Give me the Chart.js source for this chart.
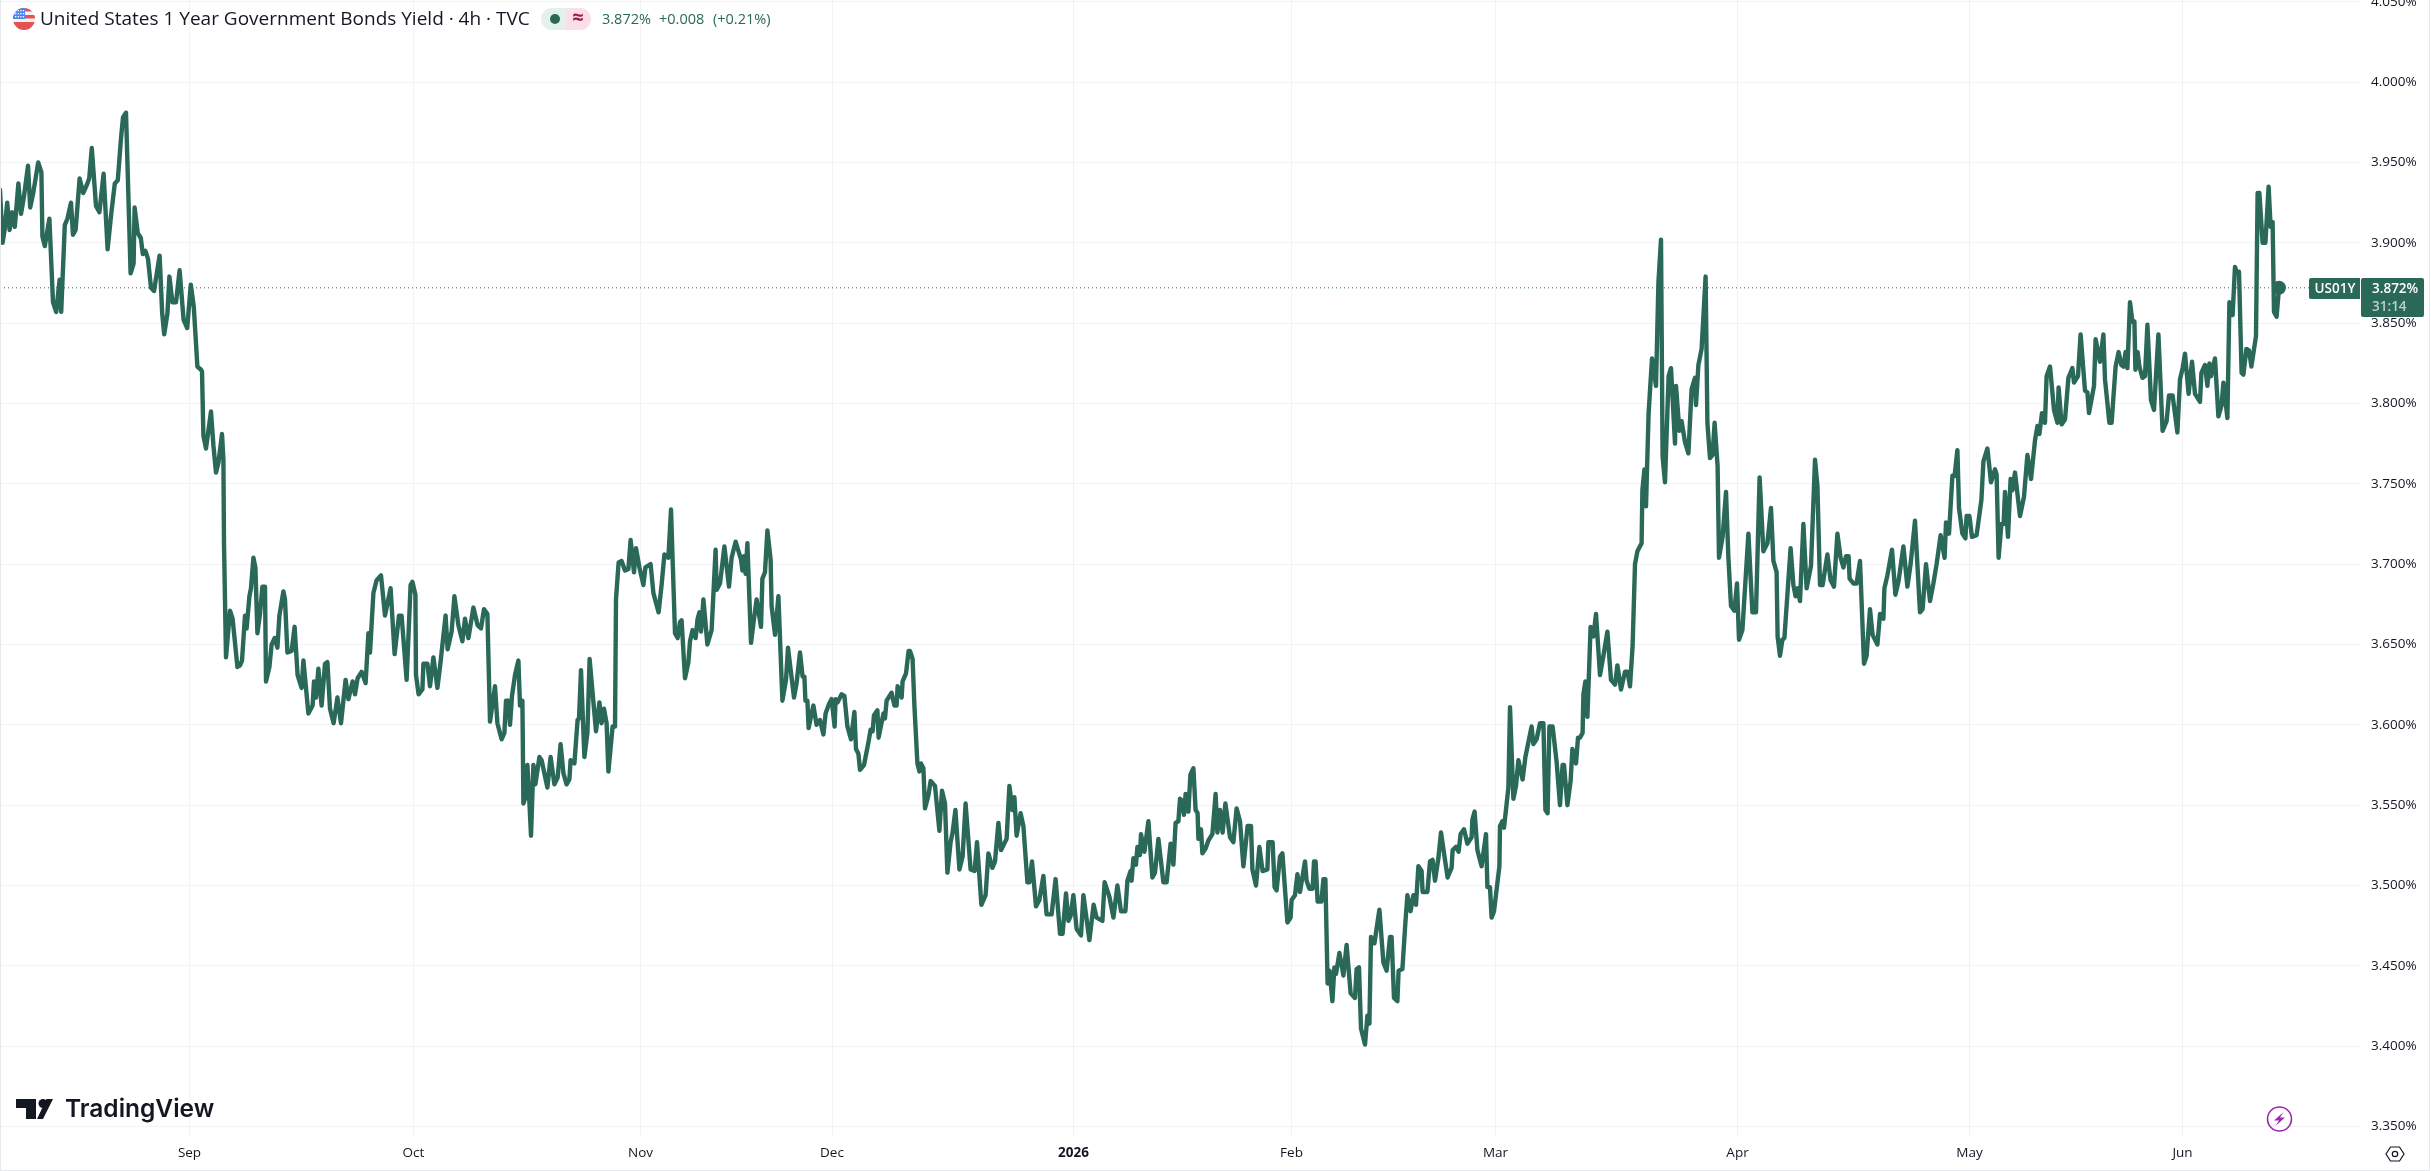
<!DOCTYPE html>
<html>
<head>
<meta charset="utf-8">
<title>United States 1 Year Government Bonds Yield</title>
<script src="https://cdn.jsdelivr.net/npm/chart.js@4/dist/chart.umd.min.js"></script>
<style>
html,body{margin:0;padding:0;background:#fff}
canvas{display:block}
</style>
</head>
<body>
<canvas id="c" width="2431" height="1171"></canvas>
<script>
// Session position of each traced bar on the compressed trading axis
const barIndex = [
0,1.3,2.3,3.6,4.8,6.1,7.4,9.2,10.5,12,14,15.1,16.6,19.1,20.7,21.2,22.4,24.7,26.5,28.1,
29.8,30.6,32.4,33.7,35.5,36.5,37.8,39.8,41.6,43.4,44.6,45.9,48,49.7,51.8,53.8,55.6,57.4,58.9,60.5,
61.5,63,65.3,66.8,67.3,68.9,70.4,71.4,72.7,74,75.5,77,79.8,81.1,82.1,83.7,84.7,86.2,88,89.8,
91.8,93.6,95.4,96.9,98.7,100.5,
101,101.7,103,105.5,106.7,108,109.2,111,111.7,112,113,115,116.3,118.7,120,121,122.5,123.3,124.7,125.5,
126.7,127.7,128.7,130,131.2,132.5,133,134.7,135.8,137.3,138.7,139.7,141.7,142.5,143.7,145.8,147.3,148.8,150.8,151.7,
154.2,156.3,157,158,159.2,160.8,162.5,163.7,165,166.8,168.7,170.5,172.8,174.2,176.3,177.5,178.8,180.8,182.8,184.2,
185,186.7,188.3,190.5,192.5,195.3,197.3,199.5,200.8,203.3,205.3,206.2,207.7,208,209.3,211.2,211.7,213.7,215,216.7,
218.7,220,222.8,223.8,225.8,227.2,229.2,231.2,232.5,234.2,236.7,238.8,240.5,242,243.7,245,247.5,248.7,250.8,252.2,
253,254.2,255,256,257.5,259.2,260,261.2,261.7,262.8,263.7,264.5,265.5,266.7,267.7,269.7,270.8,273.7,275.3,277.2,
278.8,280.3,281.7,283.3,284.7,285.3,287.2,288.8,289.5,290.5,292.2,293.7,294.8,298,299.7,300.8,302,303.3,304.2,306.3,
307.5,308,309.3,310.8,312.5,314.2,315.3,317,318,319.7,321.7,322.7,325.3,326.7,329.3,330.8,332.2,334.2,335.5,337.5,
338.8,340,
340.8,342.5,344.2,345,346.3,347.8,348.8,349.7,350.5,351.7,353.7,355.8,357.8,358.3,360,362.2,364.5,365.8,367.8,370.5,
371.2,372,372.8,373.7,375.5,377,378.3,380.5,381.2,382.5,383.7,385.3,385.8,387.5,389.2,391.2,393,394,397,398.3,
400,401.3,402.2,402.7,403.7,404.3,405.8,406.7,408.3,410,411.7,412.8,414.5,415.8,417.3,417.8,418.8,420.8,422.2,423.7,
425.5,427.2,428,429.2,430,432,434.2,435.3,436.3,437,438.7,439.3,441.7,442.5,443.3,445.8,447.2,448.3,448.8,450.8,
451.3,453,454.3,455,456.3,457.2,458.7,459.7,460.5,461.7,462.5,464.2,465.3,467.5,469.7,471,472.5,473.7,475.3,476.3,
477.7,479.7,481.3,482.8,485.3,487.3,488.5,490.7,492.8,494.2,496.2,497.5,499.2,500.5,502.5,503.3,504.7,506.2,507.2,508.3,
510.3,511.7,513.7,514.7,516,518,519.7,521.7,523.3,525.8,527.8,530,531.3,533,534.2,535.3,536.7,538.3,540.5,541.7,
544.7,546.8,548.3,551.2,552.3,554.7,556.7,558.7,560.5,562.7,563.7,565.3,565.8,566.7,568,568.7,570,570.5,572.2,574.2,
576.2,577.5,579.2,581.7,583.3,585.3,586.7,587.8,589.2,590,
590.8,592,592.8,594.2,595.2,596.7,597.8,598.8,599.2,600.5,601.2,602.8,604.2,606.2,607.8,608.7,610,611.3,612.7,615,
616.7,618.3,620,621.7,623.8,625.5,626.2,628,629.7,631.3,633.7,634.2,636.3,637.3,638.3,640,641.2,643.7,645.3,645.8,
647.5,648.7,650,652.5,653.3,654.7,656.3,657,657.8,658.8,660.7,661.7,662.7,663.8,664.8,666.2,667.2,668,669.7,671.7,
673.3,675.3,677.5,678.3,679.5,680.5,682.5,683.7,684.7,685.5,687.2,689.7,691.7,693.3,695,695.8,697,698.7,699.3,701.2,
702.7,703.7,705.3,706.7,708,709.2,710.8,711.3,713.7,715,716.3,717.5,719.2,720.5,723.8,725.8,726.3,728,729.3,730.3,
732,733.7,735.8,736.2,737.3,738.7,740.8,743,743.7,745,745.8,747,749.7,750,751.2,752,754.2,755,756.7,758,
759.2,761.3,762.7,765.8,766.7,768.3,770,771.7,772.7,773.8,774.7,776.3,778.3,780,781.3,782,783.7,785.3,786.2,788,
789,790,791.3,791.7,792.7,793.7,
795.3,796.7,798,800,801.7,803.7,805.5,807.5,808.7,810.5,812.5,813.8,815,816.3,817.5,818.7,820.8,821.2,822.2,823,
824.3,826,828,829.2,830.5,831.3,832.5,834.3,835.5,837.5,838,839.7,840.8,842.5,844.2,845.8,847.5,848,849.2,850.8,
852.8,853.7,855,856.3,857.3,858.8,859.5,861.3,863,864.2,865.5,867.2,868.5,869.5,871.2,874.2,876.2,878,879.8,881.7,
883.7,885.5,886.7,888.3,888.8,890,891.2,892.2,895.3,896.7,897.8,898.8,900,901.7,903.3,905.5,907.5,908.7,910,911.3,
913.7,915.3,917,918.7,920.3,921.7,923,924.3,924.8,926.7,928.3,930,932,933.3,935,936.3,938.7,940,941.7,942.2,
943.7,946,947.7,949.2,951.7,953.7,955.3,957.5,960,961.3,963,965,966.7,968.3,970.3,972.3,973,974.5,976.2,977.3,
978.7,979.5,981.2,982.7,983.3,984.7,986,988.3,990.7,991.7,993.7,995.5,997.5,998.3,999.3,1000.7,1001.8,1002.5,1004,1005.3,
1006.2,1007.5,1010,1012,1013.7,1015.5,1017.5,1018.7,1019.7,1021,1022.5,1023.3,1025,
1027,1028.7,1029.3,1030.8,1032.5,1034.2,1036.2,1037,1039,1040.3,1042.5,1043.7,1044.5,1047,1047.8,1050,1051.7,1052.5,1054.7,1055.8,
1057.8,1059.3,1060.7,1061.7,1062.8,1063.7,1065,1066.2,1067.2,1067.7,1068.8,1069.7,1071.2,1072.5,1073.7,1075.5,1077,1079.2,1081.3,1083.3,
1084.5,1086.3,1088.7,1090,1091.3,1092.5,1094.3,1096,1097.5,1100,1100.7,1102.5,1103.7,1104.7,1105.5,1107.5,1109.2,1110.8,1111.7,1113.7,
1114.7,1116.3,1117.5,1118.3,1119.5,1120.8,1121.7,1123.2,1124.5,1125.7,1128,1128.8,1129.7,1131.3,1132.7,1134.3,1135.3,1136.3,1137,1138.3,
1139.5
];

// Yield in percent at each of those bars
const yieldPct = [
3.933,3.900,3.908,3.925,3.908,3.919,3.910,3.937,3.918,3.929,3.948,3.922,3.931,3.950,3.944,3.904,3.898,3.915,3.863,3.857,
3.877,3.857,3.911,3.915,3.925,3.905,3.908,3.940,3.931,3.936,3.940,3.959,3.923,3.919,3.943,3.896,3.918,3.937,3.939,3.965,
3.978,3.981,3.881,3.887,3.922,3.906,3.903,3.893,3.895,3.890,3.872,3.870,3.892,3.856,3.843,3.856,3.879,3.863,3.863,3.883,
3.852,3.847,3.874,3.860,3.823,3.821,
3.820,3.780,3.772,3.795,3.774,3.757,3.763,3.781,3.765,3.713,3.642,3.671,3.666,3.636,3.637,3.640,3.668,3.660,3.680,3.685,
3.704,3.698,3.657,3.669,3.686,3.686,3.627,3.636,3.650,3.654,3.648,3.668,3.683,3.678,3.645,3.646,3.661,3.631,3.623,3.640,
3.607,3.612,3.627,3.617,3.635,3.612,3.638,3.639,3.610,3.601,3.617,3.601,3.628,3.616,3.627,3.619,3.629,3.633,3.626,3.657,
3.645,3.682,3.690,3.693,3.668,3.685,3.644,3.668,3.668,3.628,3.687,3.689,3.681,3.631,3.619,3.622,3.638,3.638,3.624,3.642,
3.623,3.636,3.668,3.647,3.658,3.680,3.662,3.652,3.666,3.654,3.673,3.662,3.660,3.672,3.669,3.602,3.624,3.601,3.591,3.595,
3.615,3.615,3.600,3.618,3.631,3.640,3.612,3.615,3.551,3.555,3.575,3.557,3.531,3.575,3.563,3.580,3.578,3.561,3.580,3.563,
3.567,3.588,3.570,3.563,3.566,3.578,3.576,3.603,3.604,3.634,3.580,3.595,3.641,3.596,3.614,3.601,3.610,3.601,3.571,3.599,
3.599,3.678,3.701,3.702,3.696,3.697,3.715,3.695,3.710,3.698,3.687,3.698,3.700,3.682,3.670,3.687,3.706,3.704,3.734,3.657,
3.654,3.664,
3.665,3.629,3.639,3.652,3.659,3.654,3.666,3.670,3.658,3.678,3.650,3.659,3.709,3.684,3.688,3.711,3.686,3.704,3.714,3.703,
3.696,3.705,3.694,3.713,3.651,3.666,3.678,3.661,3.691,3.695,3.721,3.703,3.674,3.656,3.680,3.615,3.628,3.648,3.617,3.626,
3.645,3.630,3.630,3.615,3.615,3.598,3.607,3.612,3.600,3.603,3.594,3.607,3.613,3.616,3.599,3.616,3.614,3.619,3.618,3.599,
3.591,3.608,3.585,3.582,3.572,3.575,3.589,3.597,3.596,3.606,3.609,3.592,3.607,3.604,3.615,3.620,3.612,3.612,3.624,3.617,
3.627,3.632,3.646,3.646,3.641,3.612,3.576,3.571,3.576,3.573,3.548,3.556,3.565,3.562,3.534,3.559,3.551,3.508,3.527,3.533,
3.547,3.510,3.518,3.551,3.510,3.509,3.527,3.488,3.494,3.520,3.511,3.515,3.539,3.522,3.527,3.529,3.562,3.547,3.555,3.531,
3.545,3.537,3.502,3.502,3.515,3.487,3.491,3.506,3.482,3.482,3.504,3.470,3.470,3.495,3.478,3.481,3.494,3.473,3.469,3.494,
3.466,3.488,3.480,3.478,3.502,3.493,3.480,3.500,3.484,3.484,3.503,3.509,3.503,3.517,3.513,3.524,3.519,3.532,3.521,3.540,
3.505,3.508,3.529,3.502,3.502,3.526,3.513,3.539,3.540,3.554,
3.553,3.544,3.557,3.546,3.569,3.573,3.547,3.545,3.529,3.535,3.520,3.523,3.528,3.532,3.557,3.533,3.547,3.533,3.551,3.530,
3.527,3.548,3.540,3.512,3.537,3.537,3.510,3.500,3.524,3.509,3.510,3.527,3.527,3.499,3.497,3.518,3.520,3.477,3.480,3.491,
3.494,3.507,3.496,3.515,3.503,3.498,3.498,3.515,3.515,3.490,3.490,3.504,3.504,3.439,3.447,3.428,3.449,3.445,3.458,3.444,
3.463,3.433,3.430,3.448,3.449,3.411,3.401,3.419,3.414,3.468,3.464,3.485,3.452,3.447,3.468,3.468,3.430,3.428,3.447,3.448,
3.477,3.494,3.484,3.494,3.488,3.512,3.509,3.496,3.496,3.515,3.516,3.503,3.517,3.533,3.505,3.511,3.522,3.524,3.521,3.532,
3.535,3.526,3.530,3.541,3.546,3.522,3.512,3.532,3.499,3.499,3.480,3.484,3.512,3.537,3.540,3.536,3.561,3.611,3.554,3.562,
3.578,3.566,3.580,3.599,3.588,3.591,3.601,3.601,3.547,3.545,3.599,3.599,3.577,3.550,3.575,3.575,3.550,3.565,3.585,3.576,
3.592,3.592,3.595,3.619,3.627,3.605,
3.661,3.655,3.669,3.631,3.643,3.658,3.628,3.625,3.637,3.622,3.633,3.633,3.624,3.649,3.700,3.708,3.713,3.746,3.759,3.736,
3.794,3.828,3.811,3.875,3.902,3.767,3.751,3.817,3.822,3.775,3.811,3.783,3.789,3.776,3.769,3.809,3.816,3.799,3.824,3.834,
3.879,3.788,3.766,3.768,3.788,3.761,3.704,3.717,3.745,3.704,3.674,3.671,3.688,3.653,3.659,3.719,3.670,3.670,3.754,3.708,
3.713,3.735,3.702,3.695,3.655,3.643,3.653,3.654,3.710,3.687,3.680,3.685,3.677,3.725,3.685,3.699,3.765,3.749,3.687,3.687,
3.706,3.690,3.686,3.719,3.704,3.698,3.705,3.705,3.691,3.688,3.688,3.702,3.638,3.643,3.672,3.656,3.650,3.669,3.666,3.685,
3.693,3.709,3.681,3.689,3.711,3.686,3.700,3.727,3.670,3.672,3.700,3.677,3.688,3.700,3.718,3.704,3.726,3.719,3.755,3.755,
3.771,3.735,3.719,3.716,3.730,3.730,3.717,3.718,3.740,3.764,3.772,3.751,3.759,3.756,3.704,3.725,3.725,3.745,3.717,3.753,
3.746,3.757,3.730,3.742,3.768,3.753,3.777,3.786,3.781,3.794,3.788,3.817,3.823,
3.796,3.788,3.810,3.787,3.790,3.816,3.822,3.813,3.817,3.843,3.808,3.807,3.794,3.811,3.840,3.826,3.843,3.815,3.788,3.788,
3.823,3.832,3.824,3.823,3.832,3.822,3.863,3.851,3.851,3.821,3.832,3.823,3.816,3.817,3.849,3.802,3.796,3.843,3.783,3.789,
3.805,3.805,3.782,3.815,3.822,3.831,3.806,3.826,3.806,3.801,3.819,3.824,3.811,3.825,3.817,3.828,3.792,3.799,3.813,3.791,
3.863,3.855,3.885,3.882,3.882,3.819,3.818,3.834,3.833,3.823,3.842,3.931,3.931,3.900,3.900,3.935,3.910,3.913,3.857,3.854,
3.872
];

// Price axis labels and the month labels of the time axis
const priceTicks = [3.35,3.40,3.45,3.50,3.55,3.60,3.65,3.70,3.75,3.80,3.85,3.90,3.95,4.00,4.05];
const monthLabels = ['Sep','Oct','Nov','Dec','2026','Feb','Mar','Apr','May','Jun'];
const monthBars = [94.75,206.75,320.25,416,536.75,645.75,747.75,868.75,984.75,1091.25];

// Quote line shown in the legend
const symbolCode = 'US01Y';
const titleText = 'United States 1 Year Government Bonds Yield \u00b7 4h \u00b7 TVC';
const lastYield = 3.872;
const changeAbs = '+0.008';
const changePct = '(+0.21%)';
const countdown = '31:14';

const GREEN = '#2a6858';
const INK = '#131722';
const UI_FONT = '"Open Sans", "Noto Sans", sans-serif';
const points = barIndex.map((b, i) => ({x: b, y: yieldPct[i]}));
const lastPoint = points.length - 1;

function roundedBox(ctx, x, y, w, h, radii, fill) {
  ctx.beginPath();
  ctx.roundRect(x, y, w, h, radii);
  ctx.fillStyle = fill;
  ctx.fill();
}

// Frame, legend, price tags and branding around the plot
const decorations = {
  id: 'decorations',
  afterDraw(chart) {
    const ctx = chart.ctx;
    ctx.save();

    // outer frame
    ctx.fillStyle = '#e6e8ec';
    ctx.fillRect(0, 0, 1, 1171);
    ctx.fillRect(2429, 0, 1, 1171);
    ctx.fillRect(0, 1170, 2430, 1);

    // flag
    ctx.save();
    ctx.beginPath();
    ctx.arc(24, 19, 11, 0, Math.PI * 2);
    ctx.clip();
    ctx.fillStyle = '#f1f3f6';
    ctx.fillRect(13, 8, 22, 22);
    ctx.fillStyle = '#e5524f';
    ctx.fillRect(13, 8, 22, 3.5);
    ctx.fillRect(13, 15, 22, 3.5);
    ctx.fillRect(13, 22, 22, 8);
    ctx.fillStyle = '#4f86ec';
    ctx.fillRect(13, 8, 12, 11);
    ctx.fillStyle = '#ffffff';
    for (let r = 0; r < 3; r++) {
      for (let k = 0; k < 4; k++) ctx.fillRect(15 + k * 2.6, 10 + r * 3, 1.3, 1.3);
    }
    ctx.restore();

    // title and quote
    ctx.textBaseline = 'middle';
    ctx.textAlign = 'left';
    ctx.font = '19px ' + UI_FONT;
    ctx.fillStyle = INK;
    ctx.fillText(titleText, 40, 20);

    roundedBox(ctx, 541, 8, 25, 22, [11, 0, 0, 11], '#e3f1ec');
    roundedBox(ctx, 566, 8, 25, 22, [0, 11, 11, 0], '#fadfe8');
    ctx.fillStyle = GREEN;
    ctx.beginPath();
    ctx.arc(555, 19, 5, 0, Math.PI * 2);
    ctx.fill();
    ctx.fillStyle = '#a3134f';
    ctx.font = 'bold 20px ' + UI_FONT;
    ctx.textAlign = 'center';
    ctx.fillText('\u2248', 578, 18);

    ctx.textAlign = 'left';
    ctx.fillStyle = GREEN;
    ctx.font = '14.5px ' + UI_FONT;
    ctx.fillText(lastYield.toFixed(3) + '%', 602, 20);
    ctx.fillText(changeAbs, 659, 20);
    ctx.fillText(changePct, 713, 20);

    // symbol and price tags on the axis
    roundedBox(ctx, 2309, 278, 51, 21, [2, 0, 0, 2], GREEN);
    roundedBox(ctx, 2361, 278, 63, 39, [2, 2, 2, 2], GREEN);
    ctx.fillStyle = '#ffffff';
    ctx.font = '600 13.5px ' + UI_FONT;
    ctx.textAlign = 'center';
    ctx.fillText(symbolCode, 2335, 289);
    ctx.textAlign = 'left';
    ctx.fillText(lastYield.toFixed(3) + '%', 2372, 289);
    ctx.fillStyle = '#bcd0ca';
    ctx.fillText(countdown, 2372, 307);

    // wordmark
    ctx.fillStyle = INK;
    ctx.beginPath();
    ctx.moveTo(16, 1099); ctx.lineTo(36, 1099); ctx.lineTo(36, 1119); ctx.lineTo(26, 1119);
    ctx.lineTo(26, 1108); ctx.lineTo(16, 1108); ctx.closePath();
    ctx.fill();
    ctx.beginPath();
    ctx.arc(43, 1103.5, 4.5, 0, Math.PI * 2);
    ctx.fill();
    ctx.beginPath();
    ctx.moveTo(43, 1119); ctx.lineTo(37, 1119); ctx.lineTo(46.5, 1099); ctx.lineTo(53, 1099); ctx.closePath();
    ctx.fill();
    ctx.font = '600 24.5px Inter, ' + UI_FONT;
    ctx.textAlign = 'left';
    ctx.fillText('TradingView', 65, 1110);

    // activity badge
    ctx.strokeStyle = '#9c27b0';
    ctx.lineWidth = 1.6;
    ctx.beginPath();
    ctx.arc(2279.5, 1119, 12, 0, Math.PI * 2);
    ctx.stroke();
    ctx.fillStyle = '#9c27b0';
    ctx.beginPath();
    ctx.moveTo(2283.5, 1112); ctx.lineTo(2274, 1120.5); ctx.lineTo(2279, 1120.5);
    ctx.lineTo(2275.5, 1126); ctx.lineTo(2285, 1117.5); ctx.lineTo(2280, 1117.5);
    ctx.closePath();
    ctx.fill();

    // settings cog
    ctx.strokeStyle = INK;
    ctx.lineWidth = 1.2;
    ctx.beginPath();
    ctx.moveTo(2386, 1154); ctx.lineTo(2390.5, 1147); ctx.lineTo(2399.5, 1147);
    ctx.lineTo(2404, 1154); ctx.lineTo(2399.5, 1161); ctx.lineTo(2390.5, 1161);
    ctx.closePath();
    ctx.stroke();
    ctx.beginPath();
    ctx.arc(2395, 1154, 2.7, 0, Math.PI * 2);
    ctx.stroke();

    ctx.restore();
  }
};

new Chart(document.getElementById('c'), {
  type: 'line',
  data: {
    datasets: [
      {
        label: 'US01Y',
        data: points,
        borderColor: GREEN,
        backgroundColor: GREEN,
        borderWidth: 4.4,
        borderJoinStyle: 'round',
        borderCapStyle: 'round',
        tension: 0,
        pointRadius: ctx => ctx.dataIndex === lastPoint ? 7 : 0,
        pointBackgroundColor: GREEN,
        pointBorderColor: GREEN,
        pointBorderWidth: 0,
        order: 1
      },
      {
        label: 'Last price',
        data: [{x: 0, y: lastYield}, {x: 1180, y: lastYield}],
        borderColor: GREEN,
        borderWidth: 1,
        borderDash: [1, 3],
        pointRadius: 0,
        tension: 0,
        order: 2
      }
    ]
  },
  options: {
    responsive: false,
    animation: false,
    parsing: false,
    normalized: true,
    layout: {padding: 0, autoPadding: false},
    plugins: {legend: {display: false}, tooltip: {enabled: false}},
    scales: {
      x: {
        type: 'linear',
        min: 0,
        max: 1180,
        afterFit(scale) {
          scale.height = 35;
          scale.paddingLeft = 0;
          scale.paddingRight = 0;
        },
        afterBuildTicks(scale) { scale.ticks = monthBars.map(value => ({value})); },
        grid: {color: '#f2f3f5', lineWidth: 1, drawTicks: false},
        border: {display: false},
        ticks: {
          autoSkip: false,
          maxRotation: 0,
          padding: 9,
          color: INK,
          font: ctx => ({
            family: UI_FONT,
            size: 13.5,
            weight: monthLabels[ctx.index] === '2026' ? '700' : '400'
          }),
          callback: (value, i) => monthLabels[i]
        }
      },
      y: {
        type: 'linear',
        position: 'right',
        min: 3.34409,
        max: 4.05114,
        afterFit(scale) {
          scale.width = 71;
          scale.paddingTop = 0;
          scale.paddingBottom = 0;
        },
        afterBuildTicks(scale) { scale.ticks = priceTicks.map(value => ({value})); },
        grid: {color: '#f2f3f5', lineWidth: 1, drawTicks: false},
        border: {display: false},
        ticks: {
          autoSkip: false,
          padding: 11,
          color: INK,
          font: {family: UI_FONT, size: 13.5},
          callback: value => Number(value).toFixed(3) + '%'
        }
      }
    }
  },
  plugins: [decorations]
});
</script>
</body>
</html>
